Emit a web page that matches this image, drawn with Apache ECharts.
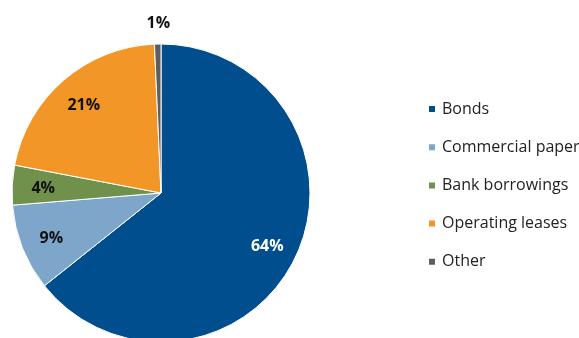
<!DOCTYPE html>
<html>
<head>
<meta charset="utf-8">
<script src="https://cdn.jsdelivr.net/npm/echarts@6/dist/echarts.min.js"></script>
<style>
  html, body { margin: 0; padding: 0; background: #fff; }
  #chart { width: 579px; height: 338px; }
</style>
</head>
<body>
<div id="chart"></div>
<script>
// Funding mix by source (share of total, %)
const categories = ['Bonds', 'Commercial paper', 'Bank borrowings', 'Operating leases', 'Other'];
const shares = [64.3, 9.4, 4.3, 21.3, 0.7];
const colors = ['#004E8E', '#7EA6CA', '#6F914B', '#F29628', '#5E5E5E'];
const labelColors = ['#ffffff', '#111111', '#111111', '#111111', '#111111'];

const FONT = '"Open Sans", "Noto Sans", sans-serif';
const center = [161, 193];
const R = 149;

const sliceData = categories.map((name, i) => ({
  name,
  value: shares[i],
  itemStyle: { color: colors[i] }
}));

// Transparent ring used only to place the percentage labels
const labelData = categories.map((name, i) => {
  const item = {
    name,
    value: shares[i],
    itemStyle: { color: 'rgba(0,0,0,0)' },
    label: { color: labelColors[i] }
  };
  if (name === 'Other') item.label.offset = [0, -52];
  return item;
});

const chart = echarts.init(document.getElementById('chart'), null, { renderer: 'canvas' });
chart.setOption({
  animation: false,
  backgroundColor: '#ffffff',
  legend: {
    orient: 'vertical',
    left: 422,
    top: 96,
    icon: 'rect',
    itemWidth: 8,
    itemHeight: 8,
    itemGap: 22.2,
    data: categories,
    textStyle: { fontFamily: FONT, fontSize: 16, color: '#222222', padding: [0, 0, 0, 1] }
  },
  series: [
    {
      type: 'pie',
      center: center,
      radius: [0, R],
      startAngle: 90,
      clockwise: true,
      silent: true,
      data: sliceData,
      itemStyle: { borderColor: '#ffffff', borderWidth: 1 },
      label: { show: false },
      labelLine: { show: false }
    },
    {
      type: 'pie',
      center: center,
      radius: [103, 127],
      startAngle: 90,
      clockwise: true,
      silent: true,
      legendHoverLink: false,
      data: labelData,
      label: {
        show: true,
        position: 'inside',
        fontFamily: FONT,
        fontSize: 16,
        fontWeight: 'bold',
        offset: [0, 2],
        formatter: p => Math.round(p.percent) + '%'
      },
      labelLine: { show: false }
    }
  ]
});
</script>
</body>
</html>
